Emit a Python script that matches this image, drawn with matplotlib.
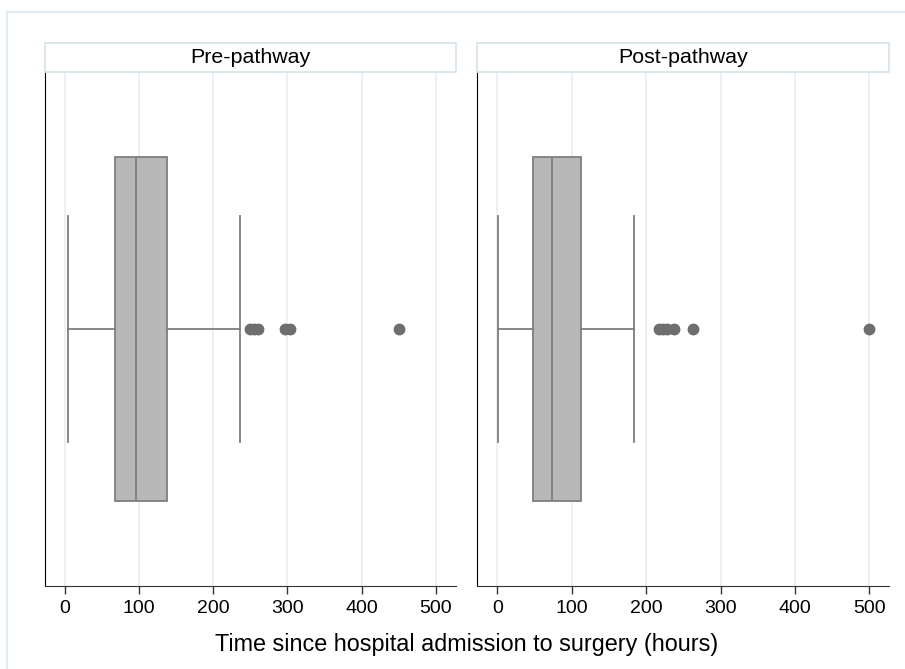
import matplotlib
matplotlib.use("Agg")
import matplotlib.pyplot as plt
from matplotlib.patches import Rectangle

plt.rcParams['font.family'] = ['Liberation Sans', 'DejaVu Sans']

# summary stats (hours)
panels = ["Pre-pathway", "Post-pathway"]
whis_lo = [4, 1]
q1 = [67, 48]
median = [96, 73]
q3 = [138, 113]
whis_hi = [236, 183]
outliers = [
    [249, 255, 260, 297, 304, 451],
    [217, 222, 228, 238, 263, 499],
]
xticks = [0, 100, 200, 300, 400, 500]

grid_col = "#e6eef2"
strip_edge = "#d5e3ea"
box_fill = "#b8b8b8"
box_edge = "#7e7e7e"
dot_col = "#6e6e6e"

W, H = 905, 669
fig = plt.figure(figsize=(W / 100, H / 100), dpi=100)

# outer light frame (runs off the right/bottom edge like the original)
fig.patches.append(Rectangle((7 / W, -0.1), 1.2, (H - 12) / H + 0.1,
                             transform=fig.transFigure, fill=False,
                             edgecolor="#e3ecf0", linewidth=1.5))

lefts = [44.5, 477]
widths = [411, 412]
bottom, top = 586, 72
strip_top = 43

for i, name in enumerate(panels):
    ax = fig.add_axes([lefts[i] / W, (H - bottom) / H, widths[i] / W, (bottom - top) / H])
    stats = [dict(med=median[i], q1=q1[i], q3=q3[i],
                  whislo=whis_lo[i], whishi=whis_hi[i], fliers=outliers[i])]
    ax.bxp(stats, positions=[0], widths=1.0, capwidths=0.66,
           orientation='horizontal', patch_artist=True,
           boxprops=dict(facecolor=box_fill, edgecolor=box_edge, linewidth=1.3),
           medianprops=dict(color=box_edge, linewidth=1.3),
           whiskerprops=dict(color=box_edge, linewidth=1.3),
           capprops=dict(color=box_edge, linewidth=1.3),
           flierprops=dict(marker='o', markerfacecolor=dot_col,
                           markeredgecolor=dot_col, markersize=7.5))
    ax.set_ylim(-0.749, 0.749)
    ax.set_xlim(-27.5, 526.5)
    ax.set_xticks(xticks)
    ax.set_xticklabels([str(t) for t in xticks])
    ax.set_yticks([])
    ax.grid(axis='x', color=grid_col, linewidth=1.2)
    ax.set_axisbelow(True)
    for s in ["top", "right"]:
        ax.spines[s].set_visible(False)
    ax.spines["left"].set_color("black")
    ax.spines["bottom"].set_color("#333333")
    ax.tick_params(axis='x', length=6, width=1, color="#333333",
                   labelsize=14, pad=4)

    # strip header
    sx = lefts[i] / W
    fig.patches.append(Rectangle((sx, (H - top) / H), widths[i] / W, (top - strip_top) / H,
                                 transform=fig.transFigure, facecolor="white",
                                 edgecolor=strip_edge, linewidth=1.2))
    fig.text(sx + widths[i] / W / 2, (H - (top + strip_top) / 2) / H, name,
             ha='center', va='center', fontsize=15.4)

fig.text((44.5 + 889) / 2 / W, (H - 645) / H,
         "Time since hospital admission to surgery (hours)",
         ha='center', va='center', fontsize=16.8)

fig.savefig("out.png", dpi=100)
